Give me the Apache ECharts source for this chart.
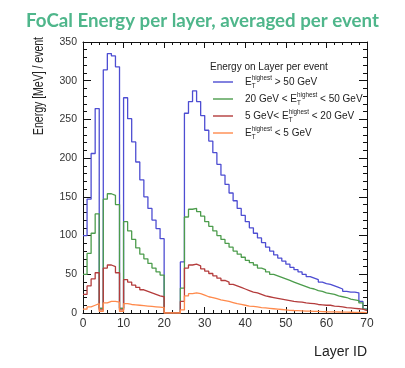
<!DOCTYPE html>
<html>
<head>
<meta charset="utf-8">
<script src="https://cdn.jsdelivr.net/npm/echarts@6/dist/echarts.min.js"></script>
<style>
  html, body { margin: 0; padding: 0; background: #ffffff; }
  #chart { width: 405px; height: 368px; }
</style>
</head>
<body>
<div id="chart"></div>
<script>
// Layer index of each bin (bin i covers [i, i+1])
const layers = Array.from({ length: 70 }, (_, i) => i);

// Mean deposited energy per layer and event [MeV], one array per E_T(highest) class
const eHigh = [
  100, 147, 206, 264, 6, 314, 335, 332, 318, 6,
  278, 251, 221, 195, 172, 150, 135, 120, 109, 96,
  0, 0, 0, 0,
  66, 258, 273, 287, 273, 255, 236, 222, 207, 192,
  178, 166, 155, 145, 135, 126, 118, 110, 103, 97,
  91, 85, 80, 75, 71, 67, 63, 59, 56, 53,
  50, 47, 45, 43, 40, 38, 37, 35, 33, 31,
  28, 27, 27, 26, 15, 5
];
const eMid = [
  50, 77, 103, 128, 6, 147, 154, 152, 140, 6,
  118, 106, 95, 84, 76, 70, 64, 58, 53, 49,
  0, 0, 0, 0,
  32, 124, 134, 135, 131, 125, 118, 112, 106, 100,
  95, 90, 85, 80, 76, 72, 68, 65, 62, 58,
  56, 53, 50, 48, 46, 44, 42, 40, 38, 36,
  34, 32, 31, 29, 28, 26, 25, 24, 22, 21,
  20, 18, 17, 16, 13, 5
];
const eLow = [
  24, 35, 44, 52, 4, 58, 62, 60, 52, 4,
  43, 40, 36, 33, 30, 28, 26, 24, 22, 21,
  0, 0, 0, 0,
  15, 58, 62, 63, 61, 57, 54, 51, 48, 45,
  42, 40, 37, 35, 33, 31, 29, 27, 26, 24,
  22, 21, 20, 19, 18, 17, 16, 15, 14.5, 14,
  13, 12.5, 12, 11, 10.5, 10, 10, 9, 8.5, 8,
  7, 6.5, 6, 5.5, 5, 3
];
const eMin = [
  5, 8, 10, 12, 2, 13, 15, 15, 14, 2,
  12, 11, 10.5, 10, 9.5, 9, 8.5, 8, 7.5, 7,
  0, 0, 0, 0,
  4, 22, 25, 26, 25, 23, 21, 20, 18.5, 17,
  16, 15, 13.5, 12, 11, 10, 9, 8.5, 8, 7,
  6.5, 6, 5.5, 5, 4.5, 4, 3.5, 3.2, 3, 2.8,
  2.5, 2.3, 2.1, 2, 1.8, 1.6, 1.5, 1.4, 1.3, 1.2,
  1.1, 1, 0.9, 0.8, 0.7, 0.5
];

// Legend entries: text before and after the E_T^highest symbol
const classNames = ['E_T > 50 GeV', '20 < E_T < 50 GeV', '5 < E_T < 20 GeV', 'E_T < 5 GeV'];
const classPre = ['', '20 GeV < ', '5 GeV< ', ''];
const classPost = [' > 50 GeV', ' < 50 GeV', ' < 20 GeV', ' < 5 GeV'];
const classValues = [eHigh, eMid, eLow, eMin];
const classColors = ['#4d4dd2', '#4c9c4c', '#b43c3c', '#ff8a4c'];

// Tick values
const xTicks = { min: 0, max: 70, step: 10 };
const yTicks = { min: 0, max: 350, step: 50 };

// Histogram outline: each bin drawn from its low edge, closed at the upper edge of the last bin
function binOutline(values) {
  const pts = layers.map((l, i) => [l, values[i]]);
  pts.push([layers[layers.length - 1] + 1, values[values.length - 1]]);
  return pts;
}

const FONT = 'Liberation Sans, Arial, sans-serif';

const frameAxis = {
  type: 'value',
  axisLine: { show: true, onZero: false, lineStyle: { color: '#111', width: 1 } },
  splitLine: { show: false },
  minorSplitLine: { show: false }
};

const chart = echarts.init(document.getElementById('chart'), null, { renderer: 'canvas' });

chart.setOption({
  backgroundColor: '#ffffff',
  animation: false,
  title: {
    text: 'FoCal Energy per layer, averaged per event',
    left: 'center',
    top: 6,
    textStyle: { fontFamily: 'Lato, sans-serif', fontSize: 18.7, fontWeight: 'bold', color: '#4fb68b' }
  },
  grid: { left: 83, right: 38, top: 42, bottom: 55 },
  xAxis: [
    Object.assign({}, frameAxis, {
      position: 'bottom',
      min: xTicks.min, max: xTicks.max, interval: xTicks.step,
      axisTick: { inside: true, length: 6, lineStyle: { color: '#111' } },
      minorTick: { show: true, splitNumber: 5, length: 3, lineStyle: { color: '#111' } },
      axisLabel: { margin: 5, fontSize: 12, color: '#333', fontFamily: FONT }
    }),
    Object.assign({}, frameAxis, {
      position: 'top',
      min: xTicks.min, max: xTicks.max, interval: xTicks.step,
      axisTick: { inside: true, length: 6, lineStyle: { color: '#111' } },
      minorTick: { show: true, splitNumber: 5, length: 3, lineStyle: { color: '#111' } },
      axisLabel: { show: false }
    })
  ],
  yAxis: [
    Object.assign({}, frameAxis, {
      position: 'left',
      min: yTicks.min, max: yTicks.max, interval: yTicks.step,
      axisTick: { inside: true, length: 8, lineStyle: { color: '#111' } },
      minorTick: { show: true, splitNumber: 5, length: 4, lineStyle: { color: '#111' } },
      axisLabel: { margin: 6, fontSize: 10.5, color: '#333', fontFamily: FONT }
    }),
    Object.assign({}, frameAxis, {
      position: 'right',
      min: yTicks.min, max: yTicks.max, interval: yTicks.step,
      axisTick: { inside: true, length: 8, lineStyle: { color: '#111' } },
      minorTick: { show: true, splitNumber: 5, length: 4, lineStyle: { color: '#111' } },
      axisLabel: { show: false }
    })
  ],
  legend: {
    orient: 'vertical',
    left: 213,
    top: 75,
    padding: 0,
    itemGap: 3,
    itemWidth: 20,
    itemHeight: 1.4,
    icon: 'rect',
    data: classNames,
    formatter: function (name) {
      const k = classNames.indexOf(name);
      return classPre[k] + 'E{sub|T}{sup|highest}' + classPost[k];
    },
    textStyle: {
      fontFamily: FONT,
      fontSize: 10,
      color: '#222',
      lineHeight: 14,
      padding: [0, 0, 0, 7],
      rich: {
        sup: { fontFamily: FONT, fontSize: 6.3, verticalAlign: 'top', lineHeight: 14, color: '#222' },
        sub: { fontFamily: FONT, fontSize: 6.3, verticalAlign: 'bottom', lineHeight: 14, width: 0, color: '#222' }
      }
    }
  },
  graphic: [
    {
      type: 'text',
      x: 210, y: 67,
      style: { text: 'Energy on Layer per event', font: '10px ' + FONT, fill: '#222', align: 'left', verticalAlign: 'middle' }
    },
    {
      type: 'text',
      x: 39, y: 86,
      rotation: Math.PI / 2,
      scaleX: 0.75,
      style: { text: 'Energy [MeV] / event', font: '14px ' + FONT, fill: '#222', align: 'center', verticalAlign: 'middle' }
    },
    {
      type: 'text',
      x: 367, y: 352,
      style: { text: 'Layer ID', font: '14px ' + FONT, fill: '#222', align: 'right', verticalAlign: 'middle' }
    }
  ],
  series: classNames.map((name, k) => ({
    name: name,
    type: 'line',
    xAxisIndex: 0,
    yAxisIndex: 0,
    step: 'end',
    showSymbol: false,
    symbol: 'none',
    silent: true,
    color: classColors[k],
    lineStyle: { color: classColors[k], width: 1.3 },
    data: binOutline(classValues[k])
  }))
});
</script>
</body>
</html>
